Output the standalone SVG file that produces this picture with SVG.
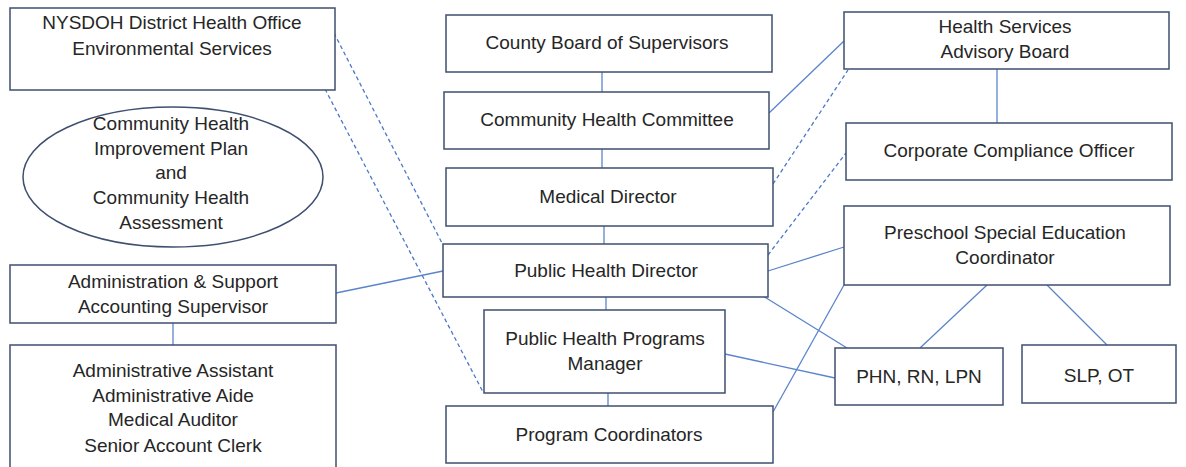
<svg xmlns="http://www.w3.org/2000/svg" width="1186" height="467" viewBox="0 0 1186 467">
<style>
.box{fill:#ffffff;stroke:#3f4f6f;stroke-width:1.5}
.t{font-family:"Liberation Sans",Arial,sans-serif;font-size:19px;fill:#262626;text-anchor:middle}
.c{stroke:#5b84cc;stroke-width:1.3;fill:none}
.d{stroke:#4a78c8;stroke-width:1.3;fill:none;stroke-dasharray:4 3}
</style>
<rect width="1186" height="467" fill="#ffffff"/>
<g id="connectors">
<line class="c" x1="602" y1="72" x2="602" y2="92"/>
<line class="c" x1="602" y1="149" x2="602" y2="168"/>
<line class="c" x1="604" y1="226" x2="604" y2="244"/>
<line class="c" x1="606" y1="297" x2="606" y2="310"/>
<line class="c" x1="608" y1="393" x2="608" y2="406"/>
<line class="c" x1="997" y1="69" x2="997" y2="123"/>
<line class="c" x1="769" y1="113" x2="844" y2="41"/>
<line class="c" x1="768" y1="271" x2="844" y2="247"/>
<line class="c" x1="763" y1="296" x2="847" y2="348"/>
<line class="c" x1="725" y1="354" x2="835" y2="378"/>
<line class="c" x1="773" y1="412" x2="844" y2="285"/>
<line class="c" x1="987" y1="285" x2="920" y2="348"/>
<line class="c" x1="1047" y1="285" x2="1107" y2="345"/>
<line class="c" x1="336" y1="293" x2="443" y2="271"/>
<line class="c" x1="173" y1="323" x2="173" y2="345"/>
<line class="d" x1="773" y1="184" x2="848" y2="70"/>
<line class="d" x1="768" y1="255" x2="846" y2="153"/>
<line class="d" x1="334" y1="33" x2="443" y2="245"/>
<line class="d" x1="325" y1="89" x2="483" y2="392"/>
</g>
<g id="nysdoh">
<rect class="box" x="10" y="8" width="325" height="82"/>
<text class="t" x="172" y="29">NYSDOH District Health Office</text>
<text class="t" x="172" y="55">Environmental Services</text>
</g>
<g id="chip">
<ellipse cx="173" cy="177" rx="150" ry="70" fill="#ffffff" stroke="#3f4f6f" stroke-width="1.5"/>
<text class="t" x="171" y="130">Community Health</text>
<text class="t" x="171" y="155">Improvement Plan</text>
<text class="t" x="171" y="179">and</text>
<text class="t" x="171" y="204">Community Health</text>
<text class="t" x="171" y="229">Assessment</text>
</g>
<g id="admin">
<rect class="box" x="10" y="265" width="326" height="58"/>
<text class="t" x="173" y="288">Administration &amp; Support</text>
<text class="t" x="173" y="313">Accounting Supervisor</text>
</g>
<g id="staff">
<rect class="box" x="10" y="345" width="326" height="130"/>
<text class="t" x="173" y="377">Administrative Assistant</text>
<text class="t" x="173" y="402">Administrative Aide</text>
<text class="t" x="173" y="426">Medical Auditor</text>
<text class="t" x="173" y="452">Senior Account Clerk</text>
</g>
<g id="board">
<rect class="box" x="446" y="15" width="326" height="57"/>
<text class="t" x="607" y="49">County Board of Supervisors</text>
</g>
<g id="committee">
<rect class="box" x="444" y="92" width="325" height="57"/>
<text class="t" x="607" y="126">Community Health Committee</text>
</g>
<g id="medical">
<rect class="box" x="446" y="168" width="327" height="58"/>
<text class="t" x="608" y="203">Medical Director</text>
</g>
<g id="phd">
<rect class="box" x="443" y="244" width="325" height="53"/>
<text class="t" x="606" y="277">Public Health Director</text>
</g>
<g id="phpm">
<rect class="box" x="484" y="310" width="241" height="83"/>
<text class="t" x="605" y="345">Public Health Programs</text>
<text class="t" x="605" y="370">Manager</text>
</g>
<g id="coordinators">
<rect class="box" x="446" y="406" width="327" height="57"/>
<text class="t" x="609" y="441">Program Coordinators</text>
</g>
<g id="hsab">
<rect class="box" x="844" y="12" width="325" height="57"/>
<text class="t" x="1005" y="33">Health Services</text>
<text class="t" x="1005" y="58">Advisory Board</text>
</g>
<g id="compliance">
<rect class="box" x="846" y="123" width="326" height="57"/>
<text class="t" x="1009" y="157">Corporate Compliance Officer</text>
</g>
<g id="preschool">
<rect class="box" x="844" y="206" width="326" height="79"/>
<text class="t" x="1005" y="239">Preschool Special Education</text>
<text class="t" x="1005" y="264">Coordinator</text>
</g>
<g id="phn">
<rect class="box" x="835" y="348" width="168" height="57"/>
<text class="t" x="919" y="383">PHN, RN, LPN</text>
</g>
<g id="slp">
<rect class="box" x="1022" y="345" width="154" height="58"/>
<text class="t" x="1099" y="382">SLP, OT</text>
</g>
</svg>
